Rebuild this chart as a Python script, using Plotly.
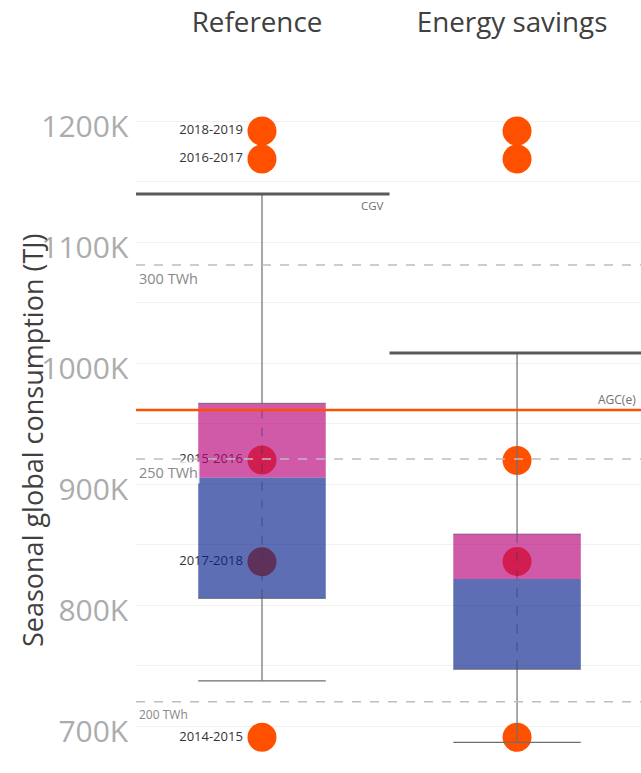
import plotly.graph_objects as go

# ---------------- data ----------------
scenarios = ["Reference", "Energy savings"]
whisker_low = [737400, 686500]
q1 = [805500, 746900]
median = [905500, 821500]
q3 = [966700, 858700]
cgv = [1139700, 1008300]          # upper whisker / CGV

seasons = ["2018-2019", "2016-2017", "2015-2016", "2017-2018", "2014-2015"]
season_ref = [1191700, 1168600, 919800, 835800, 690700]
season_sav = [1191700, 1168600, 919500, 836000, 690700]

agc_value = 961200
agc_label = "AGC(e)"
twh_values = [1081000, 920700, 720000]
twh_labels = ["300 TWh", "250 TWh", "200 TWh"]
twh_font_sizes = [14.5, 14.5, 12]

y_tick_values = [700000, 800000, 900000, 1000000, 1100000, 1200000]
y_tick_labels = ["700K", "800K", "900K", "1000K", "1100K", "1200K"]

FONT = "Open Sans"
ORANGE = "#FF5000"
half_box = 0.25
half_band = 0.5

fig = go.Figure()

# points (drawn underneath the boxes)
xs = list(range(len(scenarios)))
fig.add_trace(go.Scatter(
    x=[xs[0]] * len(seasons), y=season_ref, mode="markers+text",
    text=seasons, textposition="middle left",
    textfont=dict(family=FONT, size=13, color="#333333"),
    marker=dict(size=29, color=ORANGE, line=dict(width=0)),
    zorder=0, showlegend=False, hoverinfo="skip"))
fig.add_trace(go.Scatter(
    x=[xs[1]] * len(seasons), y=season_sav, mode="markers",
    marker=dict(size=29, color=ORANGE, line=dict(width=0)),
    zorder=0, showlegend=False, hoverinfo="skip"))

# boxes: lower (q1 -> median) blue, upper (median -> q3) pink
fig.add_trace(go.Bar(
    x=xs, base=q1, y=[m - a for m, a in zip(median, q1)], width=2 * half_box,
    marker=dict(color="rgba(8,32,140,0.65)", line=dict(width=0)),
    zorder=1, showlegend=False, hoverinfo="skip"))
fig.add_trace(go.Bar(
    x=xs, base=median, y=[b - m for b, m in zip(q3, median)], width=2 * half_box,
    marker=dict(color="rgba(184,1,121,0.65)", line=dict(width=0)),
    zorder=1, showlegend=False, hoverinfo="skip"))

# whiskers
wx, wy, ex, ey, dx, dy, cx, cy = [], [], [], [], [], [], [], []
for i in xs:
    wx += [i, i, None, i, i, None, i - half_box, i + half_box, None]
    wy += [q3[i], cgv[i], None, q1[i], whisker_low[i], None,
           whisker_low[i], whisker_low[i], None]
    ex += [i - half_box, i + half_box, None, i - half_box, i + half_box, None]
    ey += [q3[i], q3[i], None, q1[i], q1[i], None]
    dx += [i, i, None]
    dy += [q1[i], q3[i], None]
    cx += [i - half_band, i + half_band, None]
    cy += [cgv[i], cgv[i], None]

fig.add_trace(go.Scatter(x=wx, y=wy, mode="lines",
                         line=dict(color="#6e6e6e", width=1.2),
                         zorder=2, showlegend=False, hoverinfo="skip"))
fig.add_trace(go.Scatter(x=ex, y=ey, mode="lines",
                         line=dict(color="rgba(80,80,80,0.55)", width=1.2),
                         zorder=2, showlegend=False, hoverinfo="skip"))
fig.add_trace(go.Scatter(x=dx, y=dy, mode="lines",
                         line=dict(color="rgba(60,60,90,0.55)", width=1.2, dash="dash"),
                         zorder=2, showlegend=False, hoverinfo="skip"))
fig.add_trace(go.Scatter(x=cx, y=cy, mode="lines",
                         line=dict(color="#595959", width=3),
                         zorder=3, showlegend=False, hoverinfo="skip"))

for i in xs:
    fig.add_annotation(x=i + half_band, y=cgv[i], xref="x", yref="y", text="CGV",
                       showarrow=False, xanchor="right", yanchor="top",
                       xshift=-4, yshift=-2,
                       font=dict(family=FONT, size=11.5, color="#707070"))

# reference lines
for v, lab, fs in zip(twh_values, twh_labels, twh_font_sizes):
    fig.add_hline(y=v, line=dict(color="#bdbdbd", width=1.5, dash="dash"))
    fig.add_annotation(x=0, xref="paper", y=v, yref="y", text=lab, showarrow=False,
                       xanchor="left", yanchor="top", xshift=1, yshift=-2,
                       bgcolor="rgba(255,255,255,0.85)", borderpad=1,
                       font=dict(family=FONT, size=fs, color="#888888"))

fig.add_hline(y=agc_value, line=dict(color=ORANGE, width=2.5))
fig.add_annotation(x=1, xref="paper", y=agc_value, yref="y", text=agc_label,
                   showarrow=False, xanchor="right", yanchor="bottom",
                   xshift=-3, yshift=0,
                   font=dict(family=FONT, size=12, color="#707070"))

# y-axis title
fig.add_annotation(x=-104 / 505, xref="paper", y=0.4805, yref="paper",
                   text="Seasonal global consumption (TJ)", textangle=-90,
                   showarrow=False, xanchor="center", yanchor="middle",
                   font=dict(family=FONT, size=27, color="#404040"))

fig.update_layout(
    width=641, height=773,
    margin=dict(l=136, r=0, t=80, b=0),
    paper_bgcolor="white", plot_bgcolor="white",
    barmode="overlay", showlegend=False,
    font=dict(family=FONT),
    xaxis=dict(side="top", range=[-0.494, 1.486], tickvals=xs, ticktext=scenarios,
               tickfont=dict(family=FONT, size=27.8, color="#404040"),
               showgrid=False, zeroline=False, showline=False, ticks="",
               ticklabelstandoff=41, ticklabelshift=-5),
    yaxis=dict(range=[661200, 1233900], tickvals=y_tick_values, ticktext=y_tick_labels,
               tickfont=dict(family=FONT, size=30, color="#acacac"),
               showgrid=True, gridcolor="#f1f1f1", gridwidth=1,
               minor=dict(dtick=50000, tick0=0, showgrid=True, gridcolor="#f1f1f1"),
               zeroline=False, showline=True, linecolor="#dcdcdc", linewidth=1.5,
               ticks="", ticklabelshift=5),
)

fig.write_html("out.html", config={"displayModeBar": False},
               post_script="document.body.style.margin='0';")
